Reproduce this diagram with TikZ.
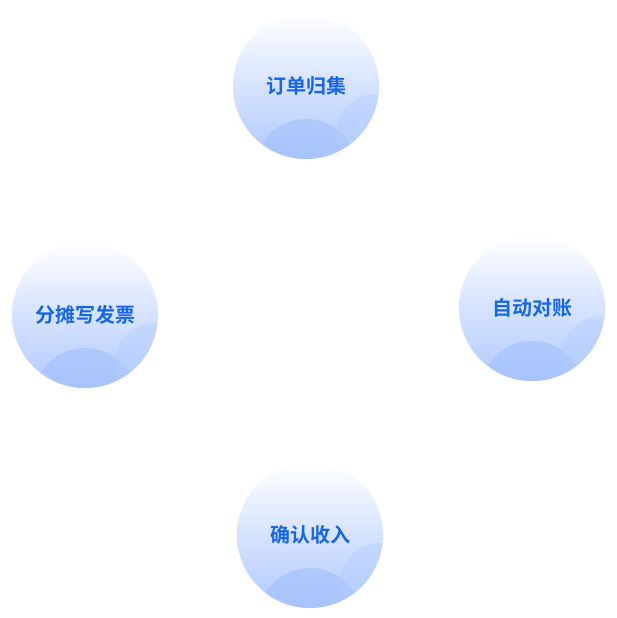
\documentclass[tikz,border=0pt]{standalone}
\usepackage{fontspec}
\setmainfont{Noto Sans CJK SC}[BoldFont={* Bold}]
\usetikzlibrary{positioning,calc}
\definecolor{ballblue}{HTML}{A3C0FC}
\definecolor{textblue}{HTML}{1766E6}

\tikzset{
  ball/.style={circle, minimum size=146pt, inner sep=0pt, top color=white, bottom color=ballblue!85,
    middle color=ballblue!45},
  balltext/.style={font=\bfseries\fontsize{20}{24}\selectfont, text=textblue},
}
\newcommand{\ballbubbles}[1]{%
  \begin{scope}
    \clip (#1) circle (73pt);
    \fill[ballblue, opacity=0.6] ($(#1)+(0pt,-85pt)$) circle (52pt);
    \fill[ballblue!80!white, opacity=0.45] ($(#1)+(70pt,-48pt)$) circle (40pt);
  \end{scope}}

\begin{document}
\begin{tikzpicture}[x=1pt, y=1pt]
  \useasboundingbox (0,0) rectangle (617,-618);

  \node[ball] (collect) at (306,-86) {};
  \node[ball] (reconcile) at (532,-308) {};
  \node[ball] (confirm) at (310,-535) {};
  \node[ball] (invoice) at (85,-315) {};

  \ballbubbles{collect}
  \ballbubbles{reconcile}
  \ballbubbles{confirm}
  \ballbubbles{invoice}

  \node[balltext] at (collect) {订单归集};
  \node[balltext] at (reconcile) {自动对账};
  \node[balltext] at (confirm) {确认收入};
  \node[balltext] at (invoice) {分摊写发票};
\end{tikzpicture}
\end{document}
